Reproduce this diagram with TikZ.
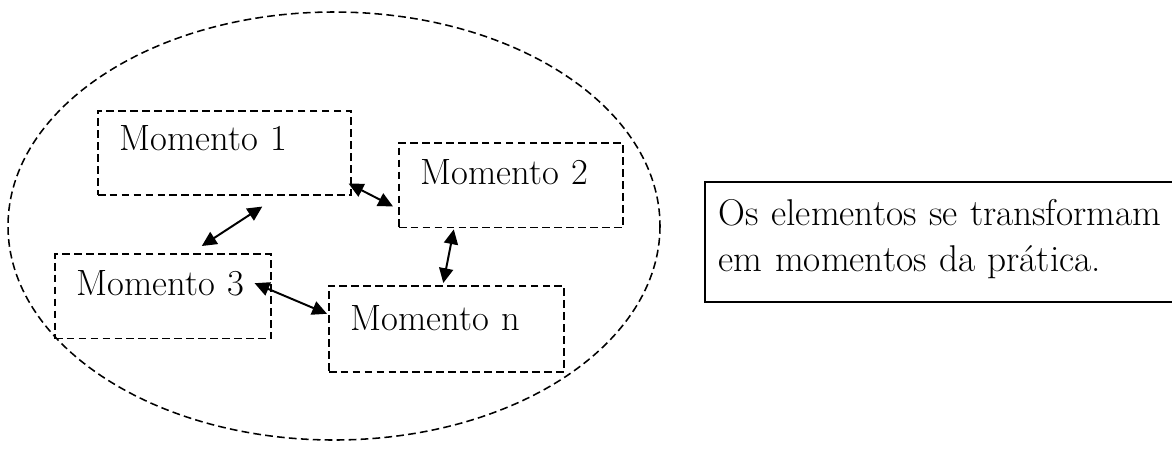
\documentclass[tikz,border=0pt]{standalone}
\usepackage{tikz}
\usetikzlibrary{arrows.meta}

\tikzset{
  momento/.style={draw, dash pattern=on 5.5pt off 3pt, line width=1.1pt,
    anchor=north west, inner xsep=0.55cm, inner ysep=0pt,
    text height=1.05cm, text depth=1.07cm, text width=#1, align=left,
    font=\fontsize{26}{30}\selectfont},
  link/.style={{Triangle[length=10.5pt,width=10pt]}-{Triangle[length=10.5pt,width=10pt]}, line width=1.4pt},
}

\begin{document}
\begin{tikzpicture}[x=0.025cm, y=-0.025cm]
  \useasboundingbox (0,0) rectangle (1172,470);

  % Dashed outline around the moments
  \draw[dash pattern=on 5.5pt off 3pt, line width=1.1pt] (334,226) ellipse [x radius=326, y radius=214];

  % Moments
  \node (m1) [momento=5.225cm, text height=1.0cm, text depth=1.1cm] at (97,110) {Momento 1};
  \node (m2) [momento=4.5cm] at (398,142) {Momento 2};
  \node (m3) [momento=4.3cm] at (54,253) {Momento 3};
  \node (mn) [momento=4.775cm, text height=1.12cm, text depth=1.03cm] at (328,285) {Momento n};

  % Links between moments
  \draw[link] ([shift={(-3,-12)}]m1.south east) -- ([shift={(-5,-22)}]m2.south west);
  \draw[link] ([shift={(38,11)}]m1.south) -- ([shift={(39,-7)}]m3.north);
  \draw[link] ([shift={(-57,1)}]m2.south) -- ([shift={(-3,-2)}]mn.north);
  \draw[link] ([shift={(-17,-13)}]m3.east) -- ([shift={(-1,-15)}]mn.west);

  % Note beside the outline
  \node (note) [draw, line width=1.2pt, anchor=north west, inner xsep=0.35cm, inner ysep=0pt,
    text height=1.1cm, text depth=1.9cm, text width=13cm, align=left,
    font=\fontsize{26.5}{32.5}\selectfont] at (704,181)
    {Os elementos se transformam\\em momentos da prática.};
\end{tikzpicture}
\end{document}
